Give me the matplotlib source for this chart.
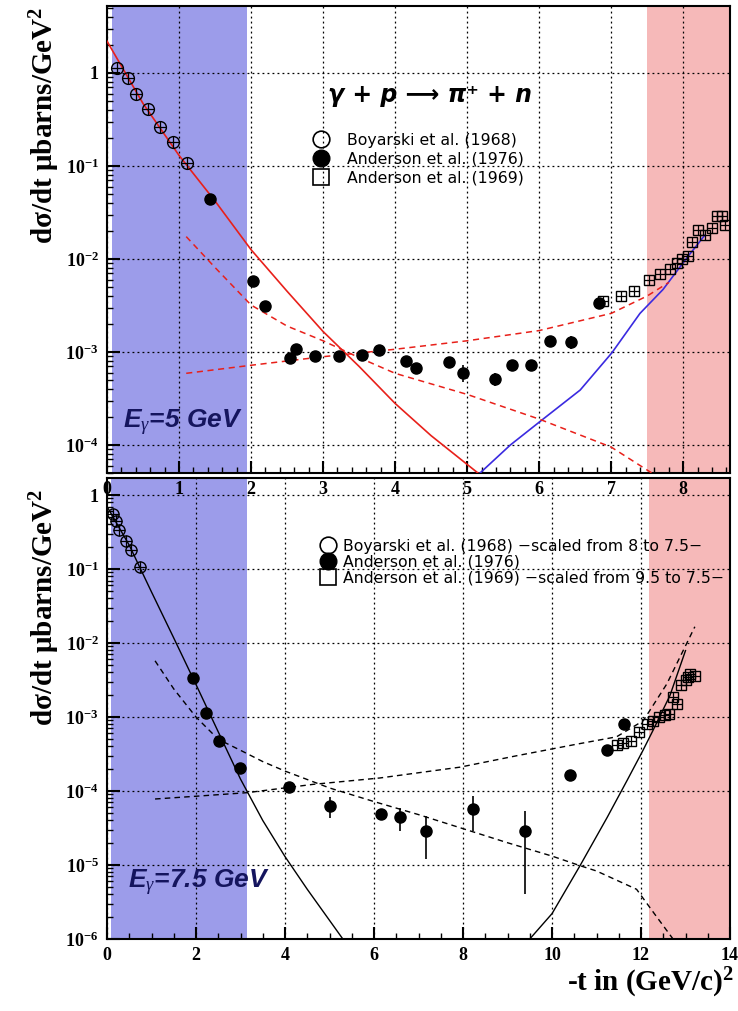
import matplotlib
matplotlib.use('Agg')
import matplotlib.pyplot as plt
import numpy as np
from matplotlib.lines import Line2D
from matplotlib.ticker import FixedLocator, MultipleLocator, FuncFormatter, NullFormatter

plt.rcParams['mathtext.fontset'] = 'custom'
plt.rcParams['mathtext.rm'] = 'Liberation Serif'
plt.rcParams['mathtext.bf'] = 'Liberation Serif:bold'
plt.rcParams['mathtext.it'] = 'Liberation Serif:italic'

# ---- top panel, E_gamma = 5 GeV ----
boy5_t = [0.14, 0.29, 0.40, 0.57, 0.74, 0.92, 1.11]
boy5_y = [1.13, 0.88, 0.59, 0.41, 0.26, 0.18, 0.108]

and76_5_t = [1.43, 2.03, 2.19, 2.54, 2.63, 2.89, 3.22, 3.54, 3.78, 4.15,
             4.29, 4.75, 4.94, 5.39, 5.63, 5.89, 6.15, 6.44, 6.83]
and76_5_y = [0.044, 0.0058, 0.0031, 0.00087, 0.00107, 0.00091, 0.00091, 0.00093, 0.00105, 0.00080,
             0.00068, 0.00078, 0.00060, 0.00051, 0.00072, 0.00072, 0.00132, 0.00128, 0.0034]
and76_5_err = [0.002, 0.0003, 0.0002, 0.00008, 0.0001, 0.00007, 0.00007, 0.00008, 0.0001, 0.00008,
               0.00007, 0.0001, 0.00012, 0.00008, 0.0001, 0.0001, 0.00015, 0.0002, 0.0004]

and69_5_t = [6.88, 7.14, 7.32, 7.53, 7.68, 7.82, 7.92, 7.99, 8.06, 8.12,
             8.21, 8.30, 8.40, 8.47, 8.54, 8.58]
and69_5_y = [0.0035, 0.0040, 0.0045, 0.0059, 0.0069, 0.0078, 0.0091, 0.0100, 0.0107, 0.0152,
             0.0205, 0.018, 0.0215, 0.029, 0.029, 0.023]

fit5_solid_t = [0.0, 0.5, 1.0, 1.5, 2.0, 2.5, 3.0, 3.5, 4.0, 4.5, 5.15]
fit5_solid_y = [2.2, 0.47, 0.13, 0.042, 0.0126, 0.0045, 0.00166, 0.0007, 0.00028, 0.000126, 5e-5]
fit5_blue_t = [5.18, 5.6, 6.04, 6.57, 7.01, 7.40, 7.72, 8.06, 8.3]
fit5_blue_y = [5.0e-5, 1.0e-4, 1.86e-4, 3.9e-4, 9.8e-4, 2.6e-3, 4.7e-3, 0.0105, 0.018]
fit5_dn_t = [1.1, 1.5, 2.0, 2.5, 3.0, 3.5, 4.0, 5.0, 6.0, 7.0, 7.6]
fit5_dn_y = [0.0174, 0.0081, 0.0032, 0.0019, 0.00132, 8.7e-4, 5.9e-4, 3.5e-4, 1.9e-4, 9.5e-5, 4.8e-5]
fit5_up_t = [1.1, 2.0, 3.0, 4.0, 5.0, 6.0, 7.0, 7.5, 7.8]
fit5_up_y = [5.9e-4, 7.2e-4, 8.9e-4, 1.07e-3, 1.32e-3, 1.7e-3, 2.6e-3, 4.0e-3, 5.6e-3]

# ---- bottom panel, E_gamma = 7.5 GeV ----
boy75_t = [0.13, 0.20, 0.28, 0.42, 0.55, 0.75]
boy75_y = [0.55, 0.44, 0.34, 0.24, 0.18, 0.105]

and76_75_t = [1.93, 2.22, 2.52, 2.99, 4.09, 5.01, 6.16, 6.58, 7.17, 8.22, 9.39, 10.4, 11.24, 11.62]
and76_75_y = [3.4e-3, 1.15e-3, 4.8e-4, 2.05e-4, 1.15e-4, 6.3e-5, 4.9e-5, 4.4e-5, 2.9e-5, 5.7e-5,
              2.9e-5, 1.66e-4, 3.6e-4, 8.1e-4]
and76_75_err = [2e-4, 8e-5, 3e-5, 1.5e-5, 1e-5, 2e-5, 8e-6, 1.5e-5, 1.7e-5, 2.8e-5,
                2.5e-5, 1.5e-5, 6e-5, 5e-5]

and69_75_t = [11.45, 11.60, 11.77, 11.96, 12.14, 12.28, 12.41, 12.54, 12.64, 12.73,
              12.80, 12.91, 13.01, 13.06, 13.10, 13.21]
and69_75_y = [4.2e-4, 4.4e-4, 4.8e-4, 6.2e-4, 8.1e-4, 8.9e-4, 1.0e-3, 1.05e-3, 1.1e-3, 1.85e-3,
              1.5e-3, 2.7e-3, 3.2e-3, 3.5e-3, 3.8e-3, 3.6e-3]

fit75_solid_t = [0.0, 0.5, 1.0, 1.5, 2.0, 2.5, 3.0, 3.5, 4.0, 4.5, 5.3]
fit75_solid_y = [0.7, 0.21, 0.049, 0.0117, 0.00275, 6.3e-4, 1.45e-4, 4e-5, 1.3e-5, 4.7e-6, 1e-6]
fit75_rise_t = [9.5, 10.0, 10.63, 11.24, 11.69, 12.04, 12.27, 12.65, 13.0]
fit75_rise_y = [1e-6, 2.2e-6, 9.8e-6, 4.4e-5, 1.4e-4, 3.5e-4, 6.6e-4, 1.95e-3, 7.9e-3]
fit75_dn_t = [1.08, 1.5, 2.0, 2.5, 3.0, 3.5, 4.0, 5.0, 6.0, 7.0, 8.0, 9.0, 10.0, 10.63,
              11.0, 11.9, 12.3, 12.72]
fit75_dn_y = [5.75e-3, 2.4e-3, 1.0e-3, 5.0e-4, 3.55e-4, 2.5e-4, 1.86e-4, 1.1e-4, 7.2e-5, 4.8e-5,
              3.1e-5, 2.0e-5, 1.32e-5, 9.8e-6, 8.3e-6, 4.7e-6, 2.2e-6, 1.0e-6]
fit75_up_t = [1.08, 2.0, 3.15, 4.63, 6.13, 7.93, 9.21, 10.56, 11.45, 12.05, 12.58, 13.21]
fit75_up_y = [7.8e-5, 8.5e-5, 9.5e-5, 1.23e-4, 1.5e-4, 2.1e-4, 3.0e-4, 4.3e-4, 5.4e-4, 8.9e-4,
              2.8e-3, 1.66e-2]

labels_5 = ['Boyarski et al. (1968)', 'Anderson et al. (1976)', 'Anderson et al. (1969)']
labels_75 = ['Boyarski et al. (1968) \u2212scaled from 8 to 7.5\u2212', 'Anderson et al. (1976)',
             'Anderson et al. (1969) \u2212scaled from 9.5 to 7.5\u2212']

decades_5 = [1e-4, 1e-3, 1e-2, 1e-1, 1]
decades_75 = [1e-6, 1e-5, 1e-4, 1e-3, 1e-2, 1e-1, 1]

SERIF = 'Liberation Serif'
BLUE_BAND = '#9c9cea'
RED_BAND = '#f6b9b9'


def log_label(v, pos):
    e = int(round(np.log10(v)))
    if e == 0:
        return '1'
    return r'$\mathbf{10^{%d}}$' % e


def style_axes(ax, decades, major, minor):
    ax.set_yscale('log')
    lo, hi = ax.get_ylim()
    minors = [m * d for d in [decades[0] / 10] + decades for m in range(2, 10)]
    ax.yaxis.set_major_locator(FixedLocator(decades))
    ax.yaxis.set_minor_locator(FixedLocator([m for m in minors if lo <= m <= hi]))
    ax.yaxis.set_major_formatter(FuncFormatter(log_label))
    ax.yaxis.set_minor_formatter(NullFormatter())
    ax.xaxis.set_major_locator(MultipleLocator(major))
    ax.xaxis.set_minor_locator(MultipleLocator(minor))
    ax.tick_params(which='major', direction='in', length=9, width=1.5, labelsize=13, pad=6)
    ax.tick_params(which='minor', direction='in', length=4, width=1)
    for lab in ax.get_xticklabels() + ax.get_yticklabels():
        lab.set_fontfamily(SERIF)
        lab.set_fontweight('bold')
    for sp in ax.spines.values():
        sp.set_linewidth(1.5)
    ax.grid(True, which='major', color='k', linestyle=(0, (1.5, 2.5)), linewidth=0.9)


def crossed(ax, x, y, marker, ms):
    ax.plot(x, y, marker, mfc='none', mec='k', mew=1.0, ms=ms, zorder=4)
    ax.plot(x, y, '+', color='k', mew=0.9, ms=ms, zorder=4)


def legend(ax, labels, x, y, spacing, textpad):
    handles = [Line2D([], [], marker='o', ls='none', mfc='none', mec='k', mew=1.2, ms=12),
               Line2D([], [], marker='o', ls='none', mfc='k', mec='k', ms=12),
               Line2D([], [], marker='s', ls='none', mfc='none', mec='k', mew=1.2, ms=11)]
    ax.legend(handles, labels, loc='upper left', bbox_to_anchor=(x, y), frameon=False,
              borderpad=0, handlelength=1.0, handletextpad=textpad, labelspacing=spacing,
              prop={'family': 'DejaVu Sans', 'size': 11.3})


def main():
    fig = plt.figure(figsize=(7.38, 10.11), dpi=100)
    ax1 = fig.add_axes([107 / 738, 1 - 473 / 1011, 623 / 738, 467 / 1011])
    ax2 = fig.add_axes([107 / 738, 1 - 939 / 1011, 623 / 738, 461 / 1011])
    ax1.set_zorder(3)

    # top panel
    ax1.set_yscale('log')
    ax1.set_xlim(0, 8.65)
    ax1.set_ylim(5.0e-5, 5.25)
    ax1.axvspan(0.07, 1.95, color=BLUE_BAND, lw=0, zorder=0)
    ax1.axvspan(7.5, 8.65, color=RED_BAND, lw=0, zorder=0)
    ax1.plot(fit5_solid_t, fit5_solid_y, color='#e8201a', lw=1.2, zorder=3)
    ax1.plot(fit5_blue_t, fit5_blue_y, color='#3a2ae0', lw=1.2, zorder=3)
    ax1.plot(fit5_dn_t, fit5_dn_y, color='#e8201a', lw=1.1, ls=(0, (4, 3)), zorder=3)
    ax1.plot(fit5_up_t, fit5_up_y, color='#e8201a', lw=1.1, ls=(0, (4, 3)), zorder=3)
    crossed(ax1, boy5_t, boy5_y, 'o', 8.5)
    crossed(ax1, and69_5_t, and69_5_y, 's', 7.5)
    ax1.errorbar(and76_5_t, and76_5_y, yerr=and76_5_err, fmt='o', color='k', ms=8,
                 elinewidth=1.2, capsize=0, zorder=5)
    style_axes(ax1, decades_5, 1, 0.2)
    ax1.text(0.518, 0.81, '\u03b3 + p \u27f6 \u03c0\u207a + n', transform=ax1.transAxes,
             ha='center', va='center', fontsize=17, fontweight='bold', style='italic',
             family='DejaVu Sans')
    ax1.text(0.026, 0.107, r'E$_\gamma$=5 GeV', transform=ax1.transAxes, ha='left', va='center',
             fontsize=19, fontweight='bold', style='italic', color='#15155e', family='Liberation Sans')
    legend(ax1, labels_5, 0.319, 0.745, 0.25, 1.15)

    # bottom panel
    ax2.set_yscale('log')
    ax2.set_xlim(0, 14)
    ax2.set_ylim(1e-6, 1.7)
    ax2.axvspan(0.1, 3.15, color=BLUE_BAND, lw=0, zorder=0)
    ax2.axvspan(12.17, 14, color=RED_BAND, lw=0, zorder=0)
    ax2.plot(fit75_solid_t, fit75_solid_y, color='k', lw=1.0, zorder=3)
    ax2.plot(fit75_rise_t, fit75_rise_y, color='k', lw=1.0, zorder=3)
    ax2.plot(fit75_dn_t, fit75_dn_y, color='k', lw=1.0, ls=(0, (4, 3)), zorder=3)
    ax2.plot(fit75_up_t, fit75_up_y, color='k', lw=1.0, ls=(0, (4, 3)), zorder=3)
    crossed(ax2, boy75_t, boy75_y, 'o', 8)
    crossed(ax2, and69_75_t, and69_75_y, 's', 7)
    ax2.errorbar(and76_75_t, and76_75_y, yerr=and76_75_err, fmt='o', color='k', ms=8,
                 elinewidth=1.2, capsize=0, zorder=5)
    style_axes(ax2, decades_75, 2, 0.5)
    ax2.text(0.034, 0.121, r'E$_\gamma$=7.5 GeV', transform=ax2.transAxes, ha='left', va='center',
             fontsize=19, fontweight='bold', style='italic', color='#15155e', family='Liberation Sans')
    legend(ax2, labels_75, 0.329, 0.885, 0.04, 0.5)

    ylab = 'd\u03c3/dt \u03bcbarns/GeV$^{\\mathbf{2}}$'
    fig.text(45 / 738, 1 - 125 / 1011, ylab, rotation=90, ha='center', va='center',
             fontsize=21, fontweight='bold', family=SERIF)
    fig.text(45 / 738, 1 - 607 / 1011, ylab, rotation=90, ha='center', va='center',
             fontsize=21, fontweight='bold', family=SERIF)
    fig.text(650 / 738, 1 - 983 / 1011, '-t in (GeV/c)$^{\\mathbf{2}}$', ha='center', va='center',
             fontsize=21, fontweight='bold', family=SERIF)

    fig.savefig('out.png', dpi=100, facecolor='white')


if __name__ == '__main__':
    main()
